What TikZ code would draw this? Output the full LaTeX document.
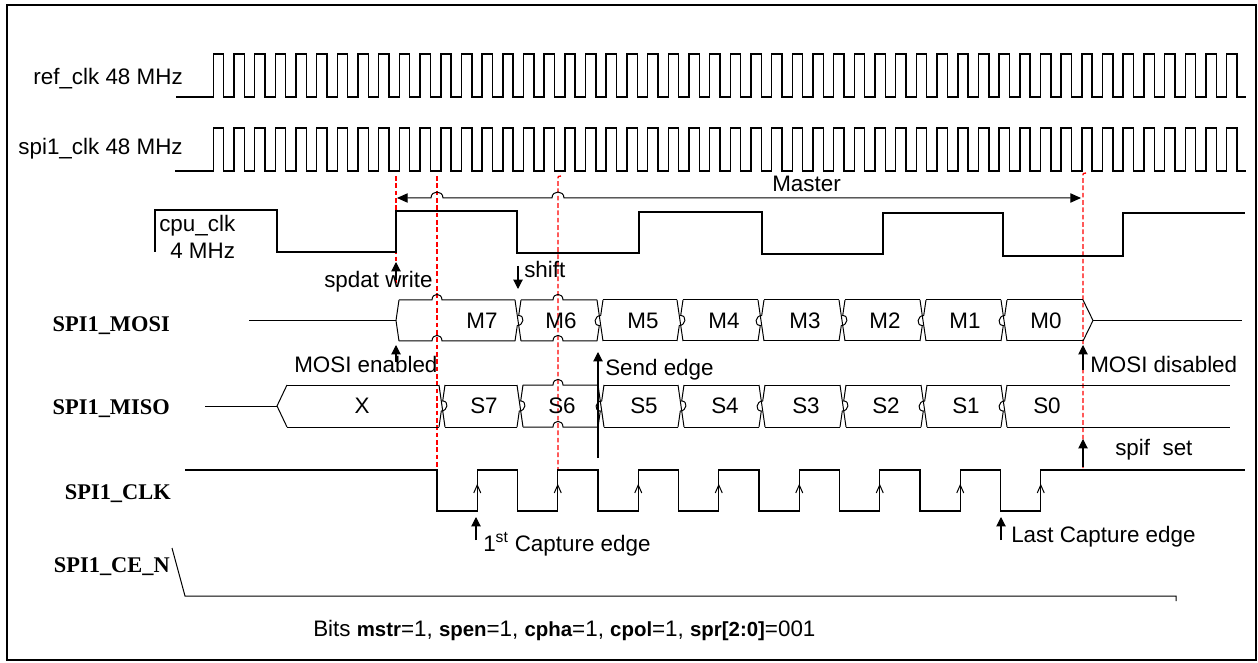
\documentclass[tikz,border=0pt]{standalone}
\usepackage{fontspec}
\setmainfont{Liberation Sans}
\newfontfamily\tnrfont{Liberation Serif}
\usetikzlibrary{arrows.meta}
\newcommand\bitkw[1]{{\fontsize{15.3}{17}\selectfont\bfseries #1}}
\begin{document}
\begin{tikzpicture}[x=0.75pt,y=-0.75pt,line join=miter]
\tikzset{
  wave/.style={line width=1.1pt},
  bus/.style={line width=0.75pt},
  redl/.style={red, dash pattern=on 3.5pt off 2pt, line width=1pt},
  lbl/.style={font=\fontsize{16.8}{19}\selectfont, inner sep=0pt},
  sig/.style={font=\tnrfont\bfseries\fontsize{16.8}{19}\selectfont, inner sep=0pt},
  marker/.style={-{Triangle[length=7pt,width=7pt]}, line width=0.8pt},
  dimarrow/.style={{Triangle[length=8pt,width=7pt]}-{Triangle[length=8pt,width=7pt]}, line width=0.75pt},
}
\useasboundingbox (0,0) rectangle (1258,663);
\draw[line width=1.8pt] (7,5) rectangle (1256,660);

% ---- 48 MHz clocks
\draw[wave] (176,97) -- (213.3,97)
  \foreach \k in {1,...,49} { -- ++(0,-43) -- ++(10.34,0) -- ++(0,43) -- ++(10.34,0) }
  -- ++(0,-43) -- ++(10.34,0) -- ++(0,43) -- (1246,97);
\draw[wave] (175,171) -- (213.3,171)
  \foreach \k in {1,...,49} { -- ++(0,-43) -- ++(10.34,0) -- ++(0,43) -- ++(10.34,0) }
  -- ++(0,-43) -- ++(10.34,0) -- ++(0,43) -- (1246,171);
\node[lbl, anchor=base east] (refl) at (183,85) {ref\_clk 48 MHz};
\node[lbl, anchor=base east] (spil) at (183,155) {spi1\_clk 48 MHz};

% ---- red dashed markers
\draw[redl] (396,176) -- (396,283);
\draw[redl] (437,176) -- (437,470);
\draw[redl] (561,176) .. controls (558,176) .. (558,180) -- (558,470);
\draw[redl] (1086,173) .. controls (1083,173) .. (1083,177) -- (1083,468);

% ---- cpu clk
\draw[wave] (155,252) -- (155,210) -- (277,210) -- (277,252) -- (396,252) -- (396,211)
  -- (517,211) -- (517,253) -- (639,253) -- (639,212) -- (762,212) -- (762,254)
  -- (883,254) -- (883,213) -- (1003,213) -- (1003,256) -- (1123,256) -- (1123,213) -- (1245,213);
\node[lbl, anchor=base west] (cpul) at (159,232) {cpu\_clk};
\node[lbl, anchor=base west] (cpuf) at (170,259) {4 MHz};

% ---- Master arrow
\coordinate (mL) at (397,198);
\coordinate (mR) at (1081,198);
\draw[dimarrow] (mL) -- (431,198) .. controls (431,190) and (443,190) .. (443,198)
  -- (552,198) .. controls (552,190) and (564,190) .. (564,198) -- (mR);
\node[lbl, anchor=base west] (master) at (772,192) {Master};

% ---- MOSI bus
\node[sig, anchor=base east] (mosil) at (170,332) {SPI1\_MOSI};
\draw[bus] (249,320.5) -- (396,320.5);
\draw[bus] (399,300) -- (396,320.5) -- (399,341);
\foreach \yy in {300,341} {
  \draw[bus] (399,\yy) -- (432,\yy) .. controls (432,\yy-7.5) and (442,\yy-7.5) .. (442,\yy) -- (515,\yy);
  \draw[bus] (521,\yy) -- (553,\yy) .. controls (553,\yy-7.5) and (563,\yy-7.5) .. (563,\yy) -- (597,\yy);
  \foreach \a/\b in {603/677,683/758,764/839,845/920,926/1001,1007/1083}
    \draw[bus] (\a,\yy) -- (\b,\yy);
}
\foreach \b/\s in {518/1,600/-1,680/1,761/-1,842/1,923/-1,1004/-1} {
  \draw[bus] (\b-3,300) -- (\b+3,341);
  \draw[bus] (\b-3,341) -- (\b-0.7,325.5) .. controls ({\b-0.7+6.5*(\s)},325.5) and ({\b+0.7+6.5*(\s)},315.5) .. (\b+0.7,315.5) -- (\b+3,300);
}
\draw[bus] (1083,300) -- (1093,320.5) -- (1083,341);
\draw[bus] (1093,320.5) -- (1242,320.5);
\foreach \x/\t in {482/M7,561/M6,643/M5,724/M4,805/M3,885/M2,965/M1,1046/M0}
  \node[lbl] (mosi\t) at (\x,320.5) {\t};

% ---- MISO bus
\node[sig, anchor=base east] (misol) at (170,414) {SPI1\_MISO};
\draw[bus] (205,406) -- (277,406);
\draw[bus] (287,385) -- (277,406) -- (287,427);
\foreach \yy in {385,427} {
  \draw[bus] (287,\yy) -- (439,\yy);
  \draw[bus] (445,\yy) -- (517,\yy);
  \draw[bus] (523,\yy) -- (553,\yy) .. controls (553,\yy-7.5) and (563,\yy-7.5) .. (563,\yy) -- (598,\yy);
  \foreach \a/\b in {604/678,684/759,765/840,846/921,927/1001,1007/1230}
    \draw[bus] (\a,\yy) -- (\b,\yy);
}
\foreach \b/\s in {442/1,520/1,601/-1,681/1,762/-1,843/1,924/-1,1004/-1} {
  \draw[bus] (\b-3,385) -- (\b+3,427);
  \draw[bus] (\b-3,427) -- (\b-0.7,411) .. controls ({\b-0.7+6.5*(\s)},411) and ({\b+0.7+6.5*(\s)},401) .. (\b+0.7,401) -- (\b+3,385);
}
\node[lbl] (misoX) at (362,406) {X};
\foreach \x/\t in {484/S7,562/S6,644/S5,725/S4,806/S3,886/S2,966/S1,1047/S0}
  \node[lbl] (miso\t) at (\x,406) {\t};

% ---- SPI CLK
\node[sig, anchor=base east] (clkl) at (171,499) {SPI1\_CLK};
\draw[wave] (185,470) -- (437,470) -- (437,511)
  \foreach \j in {1,...,7} { -- ++(40.25,0) -- ++(0,-41) -- ++(40.25,0) -- ++(0,41) }
  -- ++(40.25,0) -- ++(0,-41) -- (1245,470);
\foreach \j in {1,...,8}
  \draw[bus] ({437+40.25*(2*\j-1)-3.5},493) -- ({437+40.25*(2*\j-1)},485) -- ({437+40.25*(2*\j-1)+3.5},493);

% ---- CE_N
\node[sig, anchor=base east] (cel) at (170,572) {SPI1\_CE\_N};
\draw[bus] (172,548) -- (185,596) -- (1176,596) -- (1176,601);

% ---- annotations
\draw[marker] (396,280) -- (396,262);
\node[lbl, anchor=base west] (spdat) at (324,288) {spdat write};
\draw[marker] (518,266) -- (518,289);
\node[lbl, anchor=base west] (shift) at (524,278) {shift};
\draw[marker] (396,362) -- (396,345);
\node[lbl, anchor=base west] (mosien) at (294,373) {MOSI enabled};
\draw[marker] (598,458) -- (598,352);
\node[lbl, anchor=base west] (send) at (605,375) {Send edge};
\draw[marker] (1083,370) -- (1083,345);
\node[lbl, anchor=base west] (mosidis) at (1090,373) {MOSI disabled};
\draw[marker] (1083,467) -- (1083,439);
\node[lbl, anchor=base west] (spif) at (1115,455) {spif\ \ set};
\draw[marker] (476,540) -- (476,517);
\node[lbl, anchor=base west] (first) at (483,551) {1\textsuperscript{st} Capture edge};
\draw[marker] (1001,540) -- (1001,517);
\node[lbl, anchor=base west] (last) at (1011,542) {Last Capture edge};

\node[lbl, anchor=base west] (bits) at (313,636) {Bits \bitkw{mstr}=1, \bitkw{spen}=1, \bitkw{cpha}=1, \bitkw{cpol}=1, \bitkw{spr[2:0]}=001};
\end{tikzpicture}
\end{document}
